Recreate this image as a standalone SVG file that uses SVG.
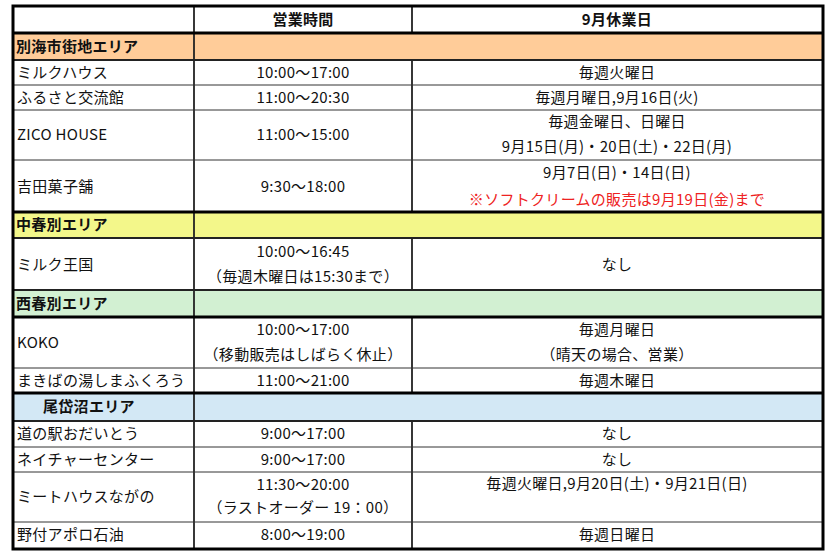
<svg xmlns="http://www.w3.org/2000/svg" width="835" height="555" viewBox="0 0 835 555">
<style>
text{font-family:"Noto Sans CJK JP","Noto Sans",sans-serif;font-size:15px;fill:#111;letter-spacing:0.3px}
.c{text-anchor:middle}
.b{font-weight:bold}
.r{fill:#ee2222}
.thin{stroke:#333;stroke-width:1;fill:none}
.thick{stroke:#000;stroke-width:3;fill:none}
.vl{stroke:#222;stroke-width:1.8;fill:none}
</style>
<rect x="0" y="0" width="835" height="555" fill="#fff"/>
<g id="bands">
<rect x="13" y="33" width="810" height="27" fill="#FFCC99"/>
<rect x="13" y="212" width="810" height="26" fill="#F3F78A"/>
<rect x="13" y="290" width="810" height="27" fill="#D2F0D2"/>
<rect x="13" y="393" width="810" height="28" fill="#D3E8F5"/>
</g>
<g id="grid">
<line class="vl" x1="194" y1="6" x2="194" y2="549"/>
<path class="vl" d="M412 6V33M412 60V212M412 238V290M412 317V393M412 421V549"/>
<path class="thin" d="M13 85H823M13 110H823M13 160H823M13 368H823M13 447H823M13 472H823M13 522H823"/>
<path class="thick" d="M13 33H823M13 212H823M13 317H823M13 393H823"/>
<path stroke="#222" stroke-width="2" fill="none" d="M13 60H823M13 238H823M13 290H823M13 421H823"/>
<rect x="13" y="6" width="810" height="543" fill="none" stroke="#000" stroke-width="3"/>
</g>
<g id="header">
<text class="c b" x="303" y="25">営業時間</text>
<text class="c b" x="617" y="25">9月休業日</text>
</g>
<g id="area-betsukai">
<text class="b" x="16" y="52">別海市街地エリア</text>
</g>
<g id="row-milkhouse">
<text x="17" y="78">ミルクハウス</text>
<text class="c" x="303" y="78">10:00～17:00</text>
<text class="c" x="617" y="78">毎週火曜日</text>
</g>
<g id="row-furusato">
<text x="17" y="103">ふるさと交流館</text>
<text class="c" x="303" y="103">11:00～20:30</text>
<text class="c" x="617" y="103">毎週月曜日,9月16日(火)</text>
</g>
<g id="row-zico">
<text x="17" y="140">ZICO HOUSE</text>
<text class="c" x="303" y="140">11:00～15:00</text>
<text class="c" x="617" y="127">毎週金曜日、日曜日</text>
<text class="c" x="617" y="152">9月15日(月)・20日(土)・22日(月)</text>
</g>
<g id="row-yoshida">
<text x="17" y="192">吉田菓子舗</text>
<text class="c" x="303" y="192">9:30～18:00</text>
<text class="c" x="617" y="178">9月7日(日)・14日(日)</text>
<text class="c r" x="617" y="205">※ソフトクリームの販売は9月19日(金)まで</text>
</g>
<g id="area-nakashunbetsu">
<text class="b" x="16" y="230">中春別エリア</text>
</g>
<g id="row-milkoukoku">
<text x="17" y="270">ミルク王国</text>
<text class="c" x="303" y="257">10:00～16:45</text>
<text class="c" x="303" y="282">（毎週木曜日は15:30まで）</text>
<text class="c" x="617" y="270">なし</text>
</g>
<g id="area-nishishunbetsu">
<text class="b" x="16" y="309">西春別エリア</text>
</g>
<g id="row-koko">
<text x="17" y="348">KOKO</text>
<text class="c" x="303" y="335">10:00～17:00</text>
<text class="c" x="303" y="360">（移動販売はしばらく休止）</text>
<text class="c" x="617" y="335">毎週月曜日</text>
<text class="c" x="617" y="360">（晴天の場合、営業）</text>
</g>
<g id="row-makiba">
<text x="17" y="386">まきばの湯しまふくろう</text>
<text class="c" x="303" y="386">11:00～21:00</text>
<text class="c" x="617" y="386">毎週木曜日</text>
</g>
<g id="area-odaito">
<text class="b" x="43" y="412">尾岱沼エリア</text>
</g>
<g id="row-michinoeki">
<text x="17" y="439">道の駅おだいとう</text>
<text class="c" x="303" y="439">9:00～17:00</text>
<text class="c" x="617" y="439">なし</text>
</g>
<g id="row-nature">
<text x="17" y="465">ネイチャーセンター</text>
<text class="c" x="303" y="465">9:00～17:00</text>
<text class="c" x="617" y="465">なし</text>
</g>
<g id="row-meathouse">
<text x="17" y="502">ミートハウスながの</text>
<text class="c" x="303" y="490">11:30～20:00</text>
<text class="c" x="303" y="513">（ラストオーダー 19：00）</text>
<text class="c" x="617" y="489">毎週火曜日,9月20日(土)・9月21日(日)</text>
</g>
<g id="row-notsuke">
<text x="17" y="540">野付アポロ石油</text>
<text class="c" x="303" y="540">8:00～19:00</text>
<text class="c" x="617" y="540">毎週日曜日</text>
</g>
</svg>
